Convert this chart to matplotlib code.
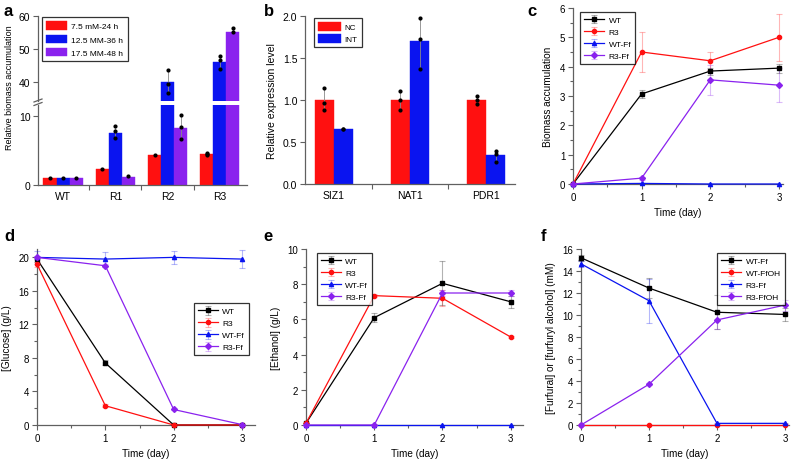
import matplotlib
matplotlib.use("Agg")
import matplotlib.pyplot as plt
from matplotlib.ticker import MultipleLocator, FixedLocator
import numpy as np

plt.rcParams['font.family'] = ['Liberation Sans', 'DejaVu Sans']
plt.rcParams['font.size'] = 7

W, H = 799, 460

# ---------------- data ----------------
# panel a
a_groups = ['WT', 'R1', 'R2', 'R3']
a_labels = ['7.5 mM-24 h', '12.5 MM-36 h', '17.5 MM-48 h']
a_red = [1.0, 2.3, 4.3, 4.5]
a_blue = [0.95, 7.6, 40.0, 46.0]
a_purple = [0.95, 1.2, 8.3, 55.0]
a_red_dots = [[1.0], [2.3], [4.4], [4.7, 4.5, 4.3]]
a_blue_dots = [[1.0], [8.6, 7.8, 6.8], [43.5, 39.5, 36.5], [48.0, 46.5, 44.0]]
a_purple_dots = [[0.95], [1.3], [10.1, 8.4, 6.6], [56.5, 55.0]]

# panel b
b_genes = ['SIZ1', 'NAT1', 'PDR1']
b_nc = [1.0, 1.0, 1.0]
b_int = [0.65, 1.7, 0.34]
b_nc_dots = [[1.14, 0.97, 0.88], [1.11, 1.0, 0.88], [1.05, 1.0, 0.95]]
b_int_dots = [[0.65, 0.65], [1.98, 1.73, 1.37], [0.39, 0.36, 0.26]]

days = [0, 1, 2, 3]
# panel c
c_wt = [0, 3.07, 3.85, 3.95]
c_wt_err = [0, 0.15, 0.12, 0.15]
c_r3 = [0, 4.5, 4.2, 5.0]
c_r3_err = [0, 0.68, 0.3, 0.8]
c_wtff = [0, 0.02, 0, 0]
c_wtff_err = [0, 0, 0, 0]
c_r3ff = [0, 0.2, 3.55, 3.37]
c_r3ff_err = [0, 0.05, 0.52, 0.58]

# panel d
d_wt = [19.8, 7.4, 0.0, 0.0]
d_wt_err = [0.3, 0.3, 0, 0]
d_r3 = [19.2, 2.3, 0.0, 0.0]
d_r3_err = [0.3, 0.2, 0, 0]
d_wtff = [20.0, 19.8, 20.0, 19.8]
d_wtff_err = [0.8, 0.8, 0.8, 1.1]
d_r3ff = [20.0, 19.0, 1.85, 0.05]
d_r3ff_err = [0.2, 0.2, 0.1, 0]

# panel e
e_wt = [0.1, 6.1, 8.05, 7.0]
e_wt_err = [0, 0.25, 1.25, 0.35]
e_r3 = [0.1, 7.35, 7.2, 5.0]
e_r3_err = [0, 0.1, 0.45, 0.05]
e_wtff = [0.0, 0.0, 0.0, 0.0]
e_wtff_err = [0, 0, 0, 0]
e_r3ff = [0.0, 0.0, 7.5, 7.5]
e_r3ff_err = [0, 0, 0.15, 0.15]

# panel f
f_wtff = [15.2, 12.45, 10.25, 10.05]
f_wtff_err = [0.3, 0.9, 1.55, 0.6]
f_wtffoh = [0, 0, 0, 0]
f_wtffoh_err = [0, 0, 0, 0]
f_r3ff = [14.65, 11.3, 0.15, 0.15]
f_r3ff_err = [0.3, 2.0, 0.05, 0.05]
f_r3ffoh = [0, 3.7, 9.55, 10.9]
f_r3ffoh_err = [0, 0.1, 0.8, 0.5]

RED = '#ff1010'
BLUE = '#0a14f0'
PURPLE = '#8a22ee'
SPINE = '#606060'

fig = plt.figure(figsize=(W / 100, H / 100), dpi=100)


def ax_at(x0, y0, x1, y1):
    return fig.add_axes([x0 / W, 1 - y1 / H, (x1 - x0) / W, (y1 - y0) / H])


def style(ax, ts=7):
    for s in ['top', 'right']:
        ax.spines[s].set_visible(False)
    for s in ['left', 'bottom']:
        ax.spines[s].set_color(SPINE)
        ax.spines[s].set_linewidth(0.9)
    ax.tick_params(which='both', direction='out', color=SPINE, width=0.8, labelsize=ts)
    ax.tick_params(which='major', length=3.5, pad=2)
    ax.tick_params(which='minor', length=2)


# ---------------- panel a (broken axis) ----------------
axa_up = ax_at(38, 17, 247, 102)
axa_lo = ax_at(38, 106, 247, 186)
x = np.arange(len(a_groups))
bw = 0.25
for ax in (axa_up, axa_lo):
    style(ax, 7.5)
    for vals, dots, col, off, lab in [(a_red, a_red_dots, RED, -bw, a_labels[0]),
                                      (a_blue, a_blue_dots, BLUE, 0, a_labels[1]),
                                      (a_purple, a_purple_dots, PURPLE, bw, a_labels[2])]:
        ax.bar(x + off, vals, bw, color=col, label=lab, edgecolor=col, linewidth=0.3)
        for i, d in enumerate(dots):
            if len(d) > 1:
                ax.plot([x[i] + off] * 2, [min(d), max(d)], color='#888888', lw=0.6, zorder=3)
            ax.scatter([x[i] + off] * len(d), d, s=9, color='black', zorder=4, linewidths=0)
    ax.set_xlim(-0.48, 3.52)
axa_up.set_ylim(34.2, 60)
axa_lo.set_ylim(0, 11.6)
axa_up.spines['bottom'].set_visible(False)
axa_up.set_xticks([])
axa_up.set_yticks([40, 50, 60])
axa_lo.set_yticks([0, 10])
axa_lo.set_xticks(x)
axa_lo.set_xticklabels(a_groups)
axa_lo.xaxis.set_minor_locator(FixedLocator([0.5, 1.5, 2.5]))
axa_lo.tick_params(axis='x', which='major', length=0, pad=4)
axa_lo.tick_params(axis='x', which='minor', length=3.5)
# break marks
for dy in (-2.5, 1.0):
    fig.add_artist(plt.Line2D([(34) / W, (42) / W], [1 - (104 + dy + 1.5) / H, 1 - (104 + dy - 1.5) / H],
                              color=SPINE, lw=0.9))
lga = axa_up.legend(loc='upper left', bbox_to_anchor=(0.0, 1.035), frameon=True, fancybox=False,
                    edgecolor='black', fontsize=6, handlelength=2.5, handleheight=1.2, borderpad=0.5,
                    labelspacing=0.5, handletextpad=0.5)
lga.get_frame().set_linewidth(0.9)
fig.text(10 / W, 1 - 88 / H, 'Relative biomass accumulation', rotation=90, va='center', ha='center', fontsize=6.5)

# ---------------- panel b ----------------
axb = ax_at(305, 17, 515, 185)
style(axb, 7.5)
xb = np.arange(len(b_genes))
bwb = 0.25
for vals, dots, col, off, lab in [(b_nc, b_nc_dots, RED, -bwb / 2, 'NC'),
                                  (b_int, b_int_dots, BLUE, bwb / 2, 'INT')]:
    axb.bar(xb + off, vals, bwb, color=col, label=lab, edgecolor=col, linewidth=0.3)
    for i, d in enumerate(dots):
        if len(d) > 1:
            axb.plot([xb[i] + off] * 2, [min(d), max(d)], color='#888888', lw=0.6, zorder=3)
        axb.scatter([xb[i] + off] * len(d), d, s=9, color='black', zorder=4, linewidths=0)
axb.set_xlim(-0.38, 2.38)
axb.set_ylim(0, 2.0)
axb.set_yticks([0, 0.5, 1.0, 1.5, 2.0])
axb.set_yticklabels(['0.0', '0.5', '1.0', '1.5', '2.0'])
axb.set_xticks(xb)
axb.set_xticklabels(b_genes)
axb.xaxis.set_minor_locator(FixedLocator([0.5, 1.5]))
axb.tick_params(axis='x', which='major', length=0, pad=4)
axb.tick_params(axis='x', which='minor', length=3.5)
axb.set_ylabel('Relative expression level', fontsize=7.5, labelpad=4)
lgb = axb.legend(loc='upper left', bbox_to_anchor=(0.024, 1.01), frameon=True, fancybox=False,
                 edgecolor='black', fontsize=5.8, handlelength=2.8, handleheight=1.3, borderpad=0.5,
                 labelspacing=0.35, handletextpad=0.5)
lgb.get_frame().set_linewidth(0.9)


# ---------------- line panels ----------------
def lines(ax, series):
    for vals, err, col, mk, lab in series:
        ax.errorbar(days, vals, yerr=err, color=col, marker=mk, ms=3.0, lw=0.9, label=lab,
                    ecolor=matplotlib.colors.to_rgba(col, 0.3), elinewidth=0.8, capsize=2.5,
                    capthick=0.8, clip_on=False, zorder=3)


def leg(ax, loc, anchor):
    lg = ax.legend(loc=loc, bbox_to_anchor=anchor, frameon=True, fancybox=False, edgecolor='black',
                   fontsize=6, handlelength=2.4, borderpad=0.5, labelspacing=0.5, handletextpad=0.5)
    lg.get_frame().set_linewidth(0.9)


LBL = 7.2

axc = ax_at(573, 9, 783, 185)
style(axc)
lines(axc, [(c_wt, c_wt_err, 'black', 's', 'WT'), (c_r3, c_r3_err, RED, 'o', 'R3'),
            (c_wtff, c_wtff_err, BLUE, '^', 'WT-Ff'), (c_r3ff, c_r3ff_err, PURPLE, 'D', 'R3-Ff')])
axc.set_xlim(0, 3.06)
axc.set_ylim(0, 6)
axc.set_xticks(days)
axc.xaxis.set_minor_locator(MultipleLocator(0.5))
axc.yaxis.set_minor_locator(MultipleLocator(0.5))
axc.set_xlabel('Time (day)', fontsize=LBL, labelpad=4)
axc.set_ylabel('Biomass accumulation', fontsize=LBL, labelpad=5)
leg(axc, 'upper left', (0.015, 1.0))

axd = ax_at(37, 250, 255, 426)
style(axd)
lines(axd, [(d_wt, d_wt_err, 'black', 's', 'WT'), (d_r3, d_r3_err, RED, 'o', 'R3'),
            (d_wtff, d_wtff_err, BLUE, '^', 'WT-Ff'), (d_r3ff, d_r3ff_err, PURPLE, 'D', 'R3-Ff')])
axd.set_xlim(0, 3.19)
axd.set_ylim(0, 21)
axd.set_xticks(days)
axd.set_yticks([0, 4, 8, 12, 16, 20])
axd.xaxis.set_minor_locator(MultipleLocator(0.5))
axd.yaxis.set_minor_locator(MultipleLocator(2))
axd.set_xlabel('Time (day)', fontsize=LBL, labelpad=4)
axd.set_ylabel('[Glucose] (g/L)', fontsize=LBL, labelpad=5)
leg(axd, 'upper left', (0.70, 0.715))

axe = ax_at(306, 250, 523, 426)
style(axe)
lines(axe, [(e_wt, e_wt_err, 'black', 's', 'WT'), (e_r3, e_r3_err, RED, 'o', 'R3'),
            (e_wtff, e_wtff_err, BLUE, '^', 'WT-Ff'), (e_r3ff, e_r3ff_err, PURPLE, 'D', 'R3-Ff')])
axe.set_xlim(0, 3.18)
axe.set_ylim(0, 10)
axe.set_xticks(days)
axe.set_yticks([0, 2, 4, 6, 8, 10])
axe.xaxis.set_minor_locator(MultipleLocator(0.5))
axe.yaxis.set_minor_locator(MultipleLocator(1))
axe.set_xlabel('Time (day)', fontsize=LBL, labelpad=4)
axe.set_ylabel('[Ethanol] (g/L)', fontsize=LBL, labelpad=5)
leg(axe, 'upper left', (0.03, 1.0))

axf = ax_at(581, 250, 789, 426)
style(axf)
lines(axf, [(f_wtff, f_wtff_err, 'black', 's', 'WT-Ff'), (f_wtffoh, f_wtffoh_err, RED, 'o', 'WT-FfOH'),
            (f_r3ff, f_r3ff_err, BLUE, '^', 'R3-Ff'), (f_r3ffoh, f_r3ffoh_err, PURPLE, 'D', 'R3-FfOH')])
axf.set_xlim(0, 3.06)
axf.set_ylim(0, 16)
axf.set_xticks(days)
axf.set_yticks(range(0, 17, 2))
axf.xaxis.set_minor_locator(MultipleLocator(0.5))
axf.yaxis.set_minor_locator(MultipleLocator(1))
axf.set_xlabel('Time (day)', fontsize=LBL, labelpad=4)
axf.set_ylabel('[Furfural] or [furfuryl alcohol] (mM)', fontsize=LBL, labelpad=5)
leg(axf, 'upper right', (1.0, 1.0))

# panel letters
for txt, px, py in [('a', 4, 16), ('b', 264, 16), ('c', 527, 16), ('d', 4, 241), ('e', 263, 241), ('f', 541, 241)]:
    fig.text(px / W, 1 - py / H, txt, fontsize=12, fontweight='bold', va='baseline', ha='left')

fig.savefig('out.png', dpi=100)
